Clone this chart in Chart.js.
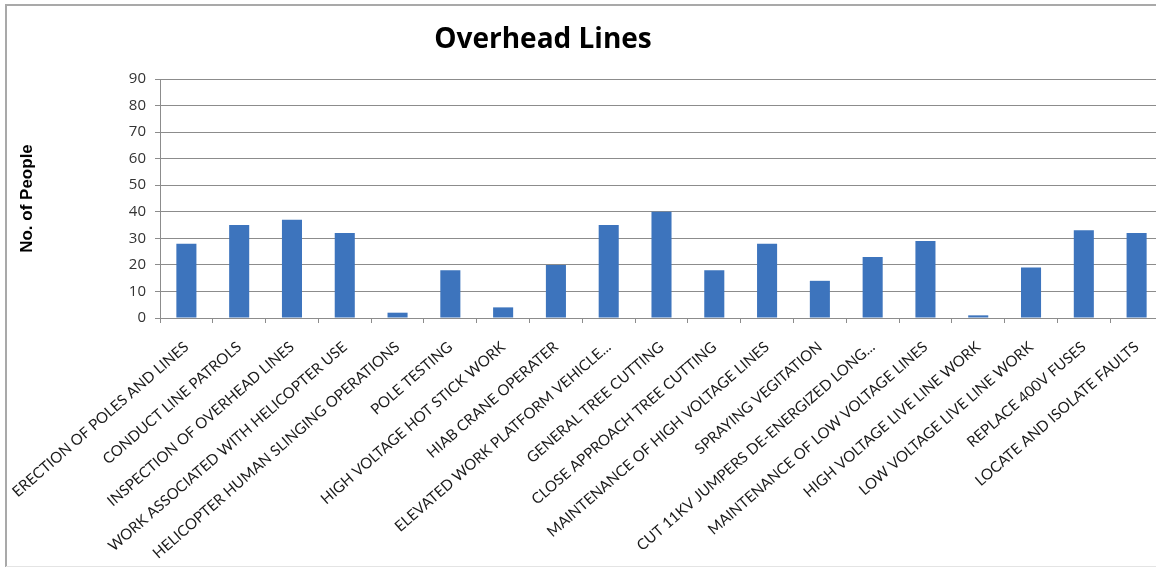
<!DOCTYPE html>
<html>
<head>
<meta charset="utf-8">
<script src="https://cdn.jsdelivr.net/npm/chart.js@4.4.1/dist/chart.umd.min.js"></script>
<style>
  html, body { margin: 0; padding: 0; background: #ffffff; overflow: hidden; }
  #wrap { position: relative; width: 1156px; height: 570px; overflow: hidden; }
</style>
</head>
<body>
<div id="wrap"><canvas id="chart" width="1170" height="570"></canvas></div>
<script>
const chartTitle = 'Overhead Lines';
const yAxisTitle = 'No. of People';

const categories = [
  'ERECTION OF POLES AND LINES',
  'CONDUCT LINE PATROLS',
  'INSPECTION OF OVERHEAD LINES',
  'WORK ASSOCIATED WITH HELICOPTER USE',
  'HELICOPTER HUMAN SLINGING OPERATIONS',
  'POLE TESTING',
  'HIGH VOLTAGE HOT STICK WORK',
  'HIAB CRANE OPERATER',
  'ELEVATED WORK PLATFORM VEHICLE...',
  'GENERAL TREE CUTTING',
  'CLOSE APPROACH TREE CUTTING',
  'MAINTENANCE OF HIGH VOLTAGE LINES',
  'SPRAYING VEGITATION',
  'CUT 11KV JUMPERS DE-ENERGIZED LONG...',
  'MAINTENANCE OF LOW VOLTAGE LINES',
  'HIGH VOLTAGE LIVE LINE WORK',
  'LOW VOLTAGE LIVE LINE WORK',
  'REPLACE 400V FUSES',
  'LOCATE AND ISOLATE FAULTS'
];

const people = [28, 35, 37, 32, 2, 18, 4, 20, 35, 40, 18, 28, 14, 23, 29, 1, 19, 33, 32];

const yTicks = { min: 0, max: 90, step: 10 };

// Frame around the whole chart and a title placed over the plot
const framePlugin = {
  id: 'frame',
  beforeDraw(chart) {
    const ctx = chart.ctx;
    ctx.save();
    ctx.fillStyle = '#ffffff';
    ctx.fillRect(0, 0, chart.width, chart.height);
    ctx.strokeStyle = '#a9a9a9';
    ctx.lineWidth = 2;
    ctx.beginPath();
    ctx.moveTo(6, chart.height - 3);
    ctx.lineTo(6, 5);
    ctx.lineTo(chart.width, 5);
    ctx.stroke();
    ctx.strokeStyle = '#e4e4e4';
    ctx.lineWidth = 1;
    ctx.beginPath();
    ctx.moveTo(6, chart.height - 3.5);
    ctx.lineTo(chart.width, chart.height - 3.5);
    ctx.stroke();
    ctx.restore();
  },
  afterDraw(chart) {
    const ctx = chart.ctx;
    ctx.save();
    ctx.fillStyle = '#000000';
    ctx.font = 'bold 28px "Open Sans", sans-serif';
    ctx.textAlign = 'center';
    ctx.textBaseline = 'middle';
    ctx.fillText(chartTitle, 543, 40);
    ctx.restore();
  }
};

new Chart(document.getElementById('chart'), {
  type: 'bar',
  data: {
    labels: categories,
    datasets: [{
      data: people,
      backgroundColor: '#3d74bd',
      borderWidth: 0,
      categoryPercentage: 0.76,
      barPercentage: 0.5
    }]
  },
  plugins: [framePlugin],
  options: {
    responsive: false,
    animation: false,
    layout: { padding: { top: 79, right: 7, bottom: 0, left: 0 } },
    plugins: {
      legend: { display: false },
      title: { display: false },
      tooltip: { enabled: false }
    },
    scales: {
      x: {
        grid: {
          offset: true,
          drawOnChartArea: false,
          drawTicks: true,
          tickLength: 5,
          color: '#8c8c8c'
        },
        border: { color: '#8c8c8c', width: 1 },
        ticks: {
          autoSkip: false,
          minRotation: 41,
          maxRotation: 41,
          padding: 15,
          color: '#1a1a1a',
          font: { family: 'Lato', size: 15 }
        },
        afterFit(scale) {
          scale.height = 252;
          scale.paddingLeft = 0;
          scale.paddingRight = 0;
        }
      },
      y: {
        min: yTicks.min,
        max: yTicks.max,
        ticks: {
          stepSize: yTicks.step,
          padding: 9,
          color: '#333333',
          font: { family: 'Open Sans', size: 15 }
        },
        grid: {
          color: '#8c8c8c',
          tickLength: 5,
          lineWidth: 1
        },
        border: { color: '#8c8c8c', width: 1 },
        title: {
          display: true,
          text: yAxisTitle,
          color: '#000000',
          font: { family: 'Liberation Sans', size: 17, weight: 'bold' },
          padding: { top: 17, bottom: 0 }
        },
        afterFit(scale) { scale.width = 160; }
      }
    }
  }
});
</script>
</body>
</html>
